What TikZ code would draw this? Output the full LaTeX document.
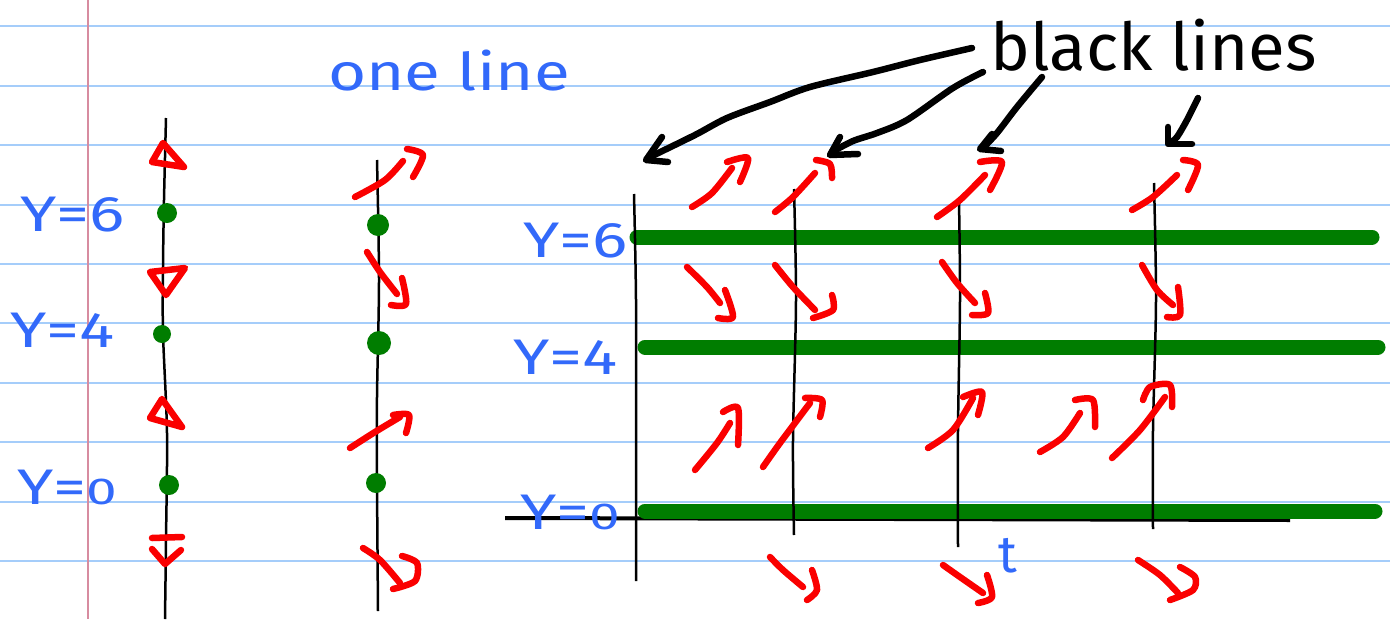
\documentclass[tikz,border=0pt]{standalone}
\usepackage{fontspec}
\setmainfont{Fira Sans}
\definecolor{ruleblue}{RGB}{165,205,250}
\definecolor{marginpink}{RGB}{215,140,160}
\definecolor{penred}{RGB}{250,0,0}
\definecolor{pengreen}{RGB}{0,125,0}
\definecolor{penblue}{RGB}{50,105,250}
\tikzset{
 rule/.style={draw=ruleblue, line width=2pt},
 redstroke/.style={draw=penred, line width=6.5pt, line cap=round, line join=round},
 blackpen/.style={draw=black, line width=6.5pt, line cap=round, line join=round},
 thinline/.style={draw=black, line width=2.5pt},
 axisline/.style={draw=black, line width=4pt},
 greenline/.style={draw=pengreen, line width=15pt, line cap=round},
 greendot/.style={fill=pengreen, draw=none},
 lbl/.style={text=penblue, inner sep=0pt, anchor=west, font=\fontsize{50}{50}\selectfont},
}
\newcommand{\lab}[1]{\scalebox{1.32}[1]{#1}}
\newcommand{\labz}{\scalebox{1.32}[1]{Y=}\scalebox{1.1}[0.75]{0}}
\begin{document}
\begin{tikzpicture}[x=1pt,y=-1pt]
\useasboundingbox (0,0) rectangle (1390,619);
\fill[white] (0,0) rectangle (1390,619);
% ruled paper
\foreach \yy in {26,86,145,205,264,323,383,442,502,561}
  \draw[rule] (0,\yy) -- (1390,\yy);
\draw[marginpink, line width=1.5pt] (88,0) -- (88,619);

% ---------- left phase line ----------
\draw[thinline] plot[smooth] coordinates {(166,118) (164,200) (163,267) (163,333) (167,433) (166,540) (165,619)};
\fill[greendot] (167,213) circle (10);
\fill[greendot] (162,334) circle (9);
\fill[greendot] (169,485) circle (10);
\draw[redstroke] (163,143) -- (152,162) -- (184,167) -- cycle;
\draw[redstroke] (150,272) -- (185,268) -- (166,295) -- cycle;
\draw[redstroke] (162,399) -- (150,418) -- (182,427) -- cycle;
\draw[redstroke] (152,538) -- (182,537);
\draw[redstroke] (152,549) -- (165,564) -- (181,550);
\node[lbl] (l6) at (20,215) {\lab{Y=6}};
\node[lbl] (l4) at (10,330) {\lab{Y=4}};
\node[lbl] (l0) at (17,487) {\labz};

% ---------- middle line ----------
\node[text=penblue, inner sep=0pt, anchor=base west, font=\fontsize{52}{52}\selectfont] (one) at (328,90) {\scalebox{1.26}[1]{one line}};
\draw[thinline] plot[smooth] coordinates {(377,160) (379,280) (377,397) (377,480) (378,611)};
\fill[greendot] (378,225) circle (11);
\fill[greendot] (379,343) circle (12);
\fill[greendot] (376,483) circle (10);
\draw[redstroke] plot[smooth] coordinates {(355,197) (385,180) (403,161)};
\draw[redstroke] plot[smooth] coordinates {(407,149) (423,155) (413,177)};
\draw[redstroke] plot[smooth] coordinates {(367,252) (380,272) (397,294)};
\draw[redstroke] plot[smooth] coordinates {(402,278) (406,304) (391,305)};
\draw[redstroke] plot[smooth] coordinates {(350,448) (375,432) (400,417)};
\draw[redstroke] plot[smooth] coordinates {(393,415) (409,415) (406,433)};
\draw[redstroke] plot[smooth] coordinates {(363,548) (380,560) (400,583)};
\draw[redstroke] plot[smooth] coordinates {(402,556) (417,563) (415,581) (393,589)};

% ---------- right: slope field ----------
\draw[axisline] (505,518) -- (1290,520);
\draw[greenline] (637,237) -- (1372,237);
\draw[greenline] (645,347) -- (1378,347);
\draw[greenline] (645,511) -- (1375,511);
\draw[thinline] plot[smooth] coordinates {(634,194) (636,300) (636,450) (636,581)};
\draw[thinline] plot[smooth] coordinates {(794,189) (796,300) (793,440) (794,535)};
\draw[thinline] plot[smooth] coordinates {(959,200) (960,300) (958,430) (958,547)};
\draw[thinline] plot[smooth] coordinates {(1154,183) (1156,300) (1153,430) (1153,529)};
\node[lbl] (r6) at (523,241) {\lab{Y=6}};
\node[lbl] (r4) at (513,357) {\lab{Y=4}};
\node[lbl] (r0) at (520,512) {\labz};
\node[text=penblue, inner sep=0pt, font=\fontsize{52}{52}\selectfont] (t) at (1008,556) {t};

% red arrows above y=6
\draw[redstroke] plot[smooth] coordinates {(692,207) (712,193) (732,168)};
\draw[redstroke] plot[smooth] coordinates {(727,162) (748,158) (740,182)};
\draw[redstroke] plot[smooth] coordinates {(775,212) (793,197) (815,173)};
\draw[redstroke] plot[smooth] coordinates {(816,160) (830,164) (832,178)};
\draw[redstroke] plot[smooth] coordinates {(937,217) (960,200) (985,175)};
\draw[redstroke] plot[smooth] coordinates {(980,162) (1002,162) (990,190)};
\draw[redstroke] plot[smooth] coordinates {(1132,210) (1153,197) (1177,175)};
\draw[redstroke] plot[smooth] coordinates {(1183,160) (1198,165) (1188,190)};
% between 6 and 4
\draw[redstroke] plot[smooth] coordinates {(687,267) (707,287) (720,303)};
\draw[redstroke] plot[smooth] coordinates {(725,290) (733,317) (718,318)};
\draw[redstroke] plot[smooth] coordinates {(775,265) (793,287) (815,310)};
\draw[redstroke] plot[smooth] coordinates {(832,295) (833,310) (813,318)};
\draw[redstroke] plot[smooth] coordinates {(942,262) (957,283) (975,303)};
\draw[redstroke] plot[smooth] coordinates {(985,293) (988,313) (972,315)};
\draw[redstroke] plot[smooth] coordinates {(1142,265) (1157,290) (1173,305)};
\draw[redstroke] plot[smooth] coordinates {(1178,287) (1180,315) (1167,317)};
% between 4 and 0
\draw[redstroke] plot[smooth] coordinates {(695,470) (717,443) (730,423)};
\draw[redstroke] plot[smooth] coordinates {(723,412) (738,408) (738,445)};
\draw[redstroke] plot[smooth] coordinates {(763,467) (780,443) (810,403)};
\draw[redstroke] plot[smooth] coordinates {(805,398) (822,400) (820,417)};
\draw[redstroke] plot[smooth] coordinates {(928,448) (953,430) (973,398)};
\draw[redstroke] plot[smooth] coordinates {(963,397) (982,392) (978,415)};
\draw[redstroke] plot[smooth] coordinates {(1040,452) (1063,437) (1080,413)};
\draw[redstroke] plot[smooth] coordinates {(1075,400) (1093,400) (1095,427)};
\draw[redstroke] plot[smooth] coordinates {(1112,458) (1140,430) (1165,397)};
\draw[redstroke] plot[smooth] coordinates {(1143,400) (1150,387) (1170,385) (1172,407)};
% below 0
\draw[redstroke] plot[smooth] coordinates {(770,557) (783,570) (803,587)};
\draw[redstroke] plot[smooth] coordinates {(812,570) (817,590) (807,600)};
\draw[redstroke] plot[smooth] coordinates {(943,565) (960,577) (983,593)};
\draw[redstroke] plot[smooth] coordinates {(987,575) (992,597) (978,603)};
\draw[redstroke] plot[smooth] coordinates {(1138,560) (1160,575) (1178,593)};
\draw[redstroke] plot[smooth] coordinates {(1180,567) (1195,577) (1193,590) (1170,600)};

% ---------- "black lines" and pointers ----------
\node[inner sep=0pt, anchor=base west, font=\fontsize{60}{60}\selectfont] (bl) at (990,70) {\scalebox{1.12}[1.1]{black lines}};
\draw[blackpen] plot[smooth, tension=0.5] coordinates {(972,48) (920,60) (873,72) (810,87) (770,102) (727,118) (695,135) (650,157)};
\draw[blackpen] (662,137) -- (646,160) -- (668,162);
\draw[blackpen] plot[smooth, tension=0.5] coordinates {(983,72) (953,88) (907,120) (877,133) (853,141) (832,152)};
\draw[blackpen] (840,137) -- (830,155) -- (858,154);
\draw[blackpen] plot[smooth] coordinates {(1042,77) (1017,107) (997,133) (983,148)};
\draw[blackpen] (992,134) -- (980,149) -- (1001,151);
\draw[blackpen] plot[smooth] coordinates {(1198,98) (1187,120) (1177,137) (1170,143)};
\draw[blackpen] (1168,127) -- (1168,144) -- (1192,144);
\end{tikzpicture}
\end{document}
